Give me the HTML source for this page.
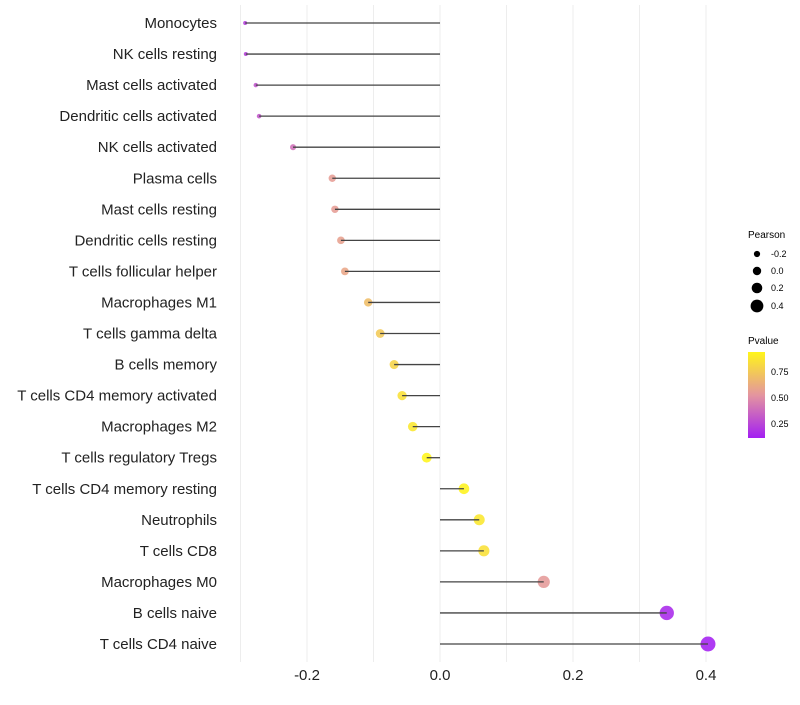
<!DOCTYPE html>
<html><head><meta charset="utf-8"><style>
body{margin:0;background:#fff;font-family:"Liberation Sans",sans-serif;}
</style></head><body>
<svg id="chart" width="800" height="700" xmlns="http://www.w3.org/2000/svg" font-family="Liberation Sans, sans-serif">
<defs><linearGradient id="pg" x1="0" y1="1" x2="0" y2="0">
<stop offset="0" stop-color="#a31ff2"/><stop offset="0.5" stop-color="#e4959f"/><stop offset="1" stop-color="#fff51a"/></linearGradient></defs>
<g id="grid"></g><g id="points"></g><g id="marks"></g><g id="labels"></g>
<g font-size="9">
<text x="748" y="238" font-size="10">Pearson</text>
<circle cx="757" cy="254" r="3.1"/><text x="771" y="257">-0.2</text>
<circle cx="757" cy="271" r="4.2"/><text x="771" y="274">0.0</text>
<circle cx="757" cy="288" r="5.3"/><text x="771" y="291">0.2</text>
<circle cx="757" cy="306" r="6.4"/><text x="771" y="309">0.4</text>
<text x="748" y="344" font-size="10">Pvalue</text>
<rect x="748" y="352" width="17" height="86" fill="url(#pg)"/>
<text x="771" y="375">0.75</text><text x="771" y="401">0.50</text><text x="771" y="427">0.25</text>
</g>
</svg>
<script>
const cells=["Monocytes","NK cells resting","Mast cells activated","Dendritic cells activated","NK cells activated","Plasma cells","Mast cells resting","Dendritic cells resting","T cells follicular helper","Macrophages M1","T cells gamma delta","B cells memory","T cells CD4 memory activated","Macrophages M2","T cells regulatory  Tregs ","T cells CD4 memory resting","Neutrophils","T cells CD8","Macrophages M0","B cells naive","T cells CD4 naive"];
const pearson=[-0.293,-0.292,-0.277,-0.272,-0.221,-0.162,-0.158,-0.149,-0.143,-0.108,-0.090,-0.069,-0.057,-0.041,-0.020,0.036,0.059,0.066,0.156,0.341,0.403];
const pvalue=[0.22,0.23,0.3,0.31,0.4,0.56,0.56,0.58,0.6,0.7,0.75,0.8,0.85,0.88,0.94,0.93,0.88,0.85,0.55,0.15,0.12];
const xticks=[-0.2,0.0,0.2,0.4];
const grid=[-0.3,-0.2,-0.1,0,0.1,0.2,0.3,0.4];
const NS="http://www.w3.org/2000/svg";
const xs=v=>440+v*665;
const ys=i=>23+i*31.05;
const rs=p=>Math.sqrt(Math.max(4,4+75*(p+0.29)));
function col(p){const t=Math.max(0,Math.min(1,(p-0.115)/(0.94-0.115)));
 const a=[163,31,242],m=[228,149,159],b=[255,245,26];let c;
 if(t<0.5){const u=t/0.5;c=a.map((x,k)=>x+(m[k]-x)*u);}else{const u=(t-0.5)/0.5;c=m.map((x,k)=>x+(b[k]-x)*u);}
 return `rgb(${c.map(Math.round).join(",")})`;}
function mk(tag,at,par){const e=document.createElementNS(NS,tag);for(const k in at)e.setAttribute(k,at[k]);document.getElementById(par).appendChild(e);return e;}
grid.forEach(g=>{const l=mk("line",{x1:xs(g),x2:xs(g),y1:5,y2:662,stroke:"#ededed","stroke-width":1},"grid");

});
xticks.forEach(t=>{const e=mk("text",{x:xs(t),y:680,"text-anchor":"middle","font-size":15,fill:"#222"},"labels");e.textContent=t.toFixed(1);

});
cells.forEach((c,i)=>{const y=ys(i);
const t=mk("text",{x:217,y:y+5,"text-anchor":"end","font-size":15,fill:"#222"},"labels");t.textContent=c;


const p=mk("circle",{cx:xs(pearson[i]),cy:y,r:rs(pearson[i]),fill:col(pvalue[i]),"fill-opacity":0.88},"points");


const l=mk("line",{x1:xs(0),x2:xs(pearson[i]),y1:y,y2:y,stroke:"#444","stroke-width":1.3},"marks");

});
</script>
</body></html>
